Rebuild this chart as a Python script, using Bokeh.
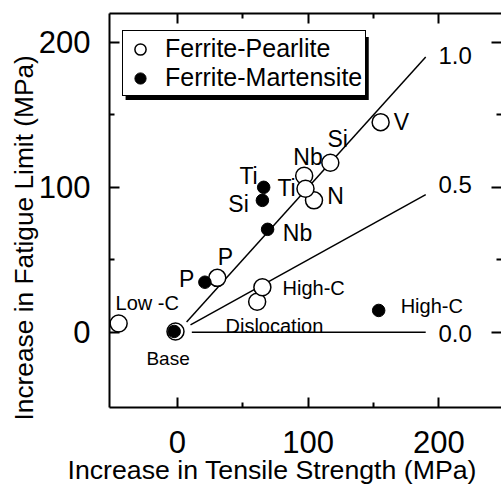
from bokeh.plotting import figure
from bokeh.models import (Range1d, LinearAxis, FixedTicker, Legend, Title,
                          LegendItem, BoxAnnotation)
from bokeh.core.properties import value
from bokeh.embed import file_html
from bokeh.resources import INLINE

FONT = "Liberation Sans"

# ---- data (MPa) ----
# Ferrite-Pearlite (open circles), in drawing order
fp_names = ["Low-C", "Base", "P", "Dislocation", "High-C", "Nb", "N", "Ti", "Si", "V"]
fp_tensile = [-45, -1.5, 30.5, 61, 65, 97, 104.5, 98, 117, 155.5]
fp_fatigue = [6, 0.5, 37.5, 21, 31, 108, 91, 99, 117, 145]

# Ferrite-Martensite (filled circles)
fm_names = ["Base", "P", "Si", "Ti", "Nb", "High-C"]
fm_tensile = [-2.5, 21, 65, 66, 69, 154]
fm_fatigue = [0.5, 34.5, 91, 100, 71, 15]

# reference lines: fatigue/tensile ratio
ratios = [1.0, 0.5, 0.0]
ratio_labels = ["1.0", "0.5", "0.0"]
line_start = [7, 10, 11]
line_end = [190, 190, 190]

x_ticks = [0, 100, 200]
x_minor = [50, 150]
y_ticks = [0, 100, 200]
y_minor = [50, 150]

# annotation texts
elem_texts = ["P", "P", "Ti", "Si", "Nb", "Ti", "Nb", "N", "Si", "V"]
elem_x = [7, 36.8, 54.4, 46.8, 91.9, 83.5, 99.9, 121, 122.6, 171.4]
elem_y = [36.4, 51.6, 107.6, 88.8, 68.8, 99.6, 120.6, 93.7, 133.7, 144.8]

cond_texts = ["Low -C", "High-C", "High-C", "Dislocation"]
cond_x = [-47.4, 80.4, 170.8, 36.8]
cond_y = [19.8, 30.7, 18.4, 4.6]

ratio_label_x = [199.8, 199.8, 199.8]
ratio_label_y = [191, 102, -1]

p = figure(width=501, height=487, x_range=Range1d(-52, 248), y_range=Range1d(-52, 220),
           output_backend="svg", toolbar_location=None,
           min_border_left=109, min_border_right=0, min_border_top=13, min_border_bottom=80)
p.xgrid.visible = False
p.ygrid.visible = False
p.outline_line_color = None
p.background_fill_color = "white"
p.border_fill_color = "white"


def style_axis(ax, ticks, minor, show_labels):
    ax.ticker = FixedTicker(ticks=ticks, minor_ticks=minor)
    ax.axis_line_width = 2
    ax.axis_line_color = "black"
    ax.major_tick_line_width = 2
    ax.minor_tick_line_width = 2
    ax.major_tick_in = 10
    ax.major_tick_out = 0
    ax.minor_tick_in = 5
    ax.minor_tick_out = 0
    ax.major_label_text_font = FONT
    ax.major_label_text_color = "black"
    ax.major_label_text_font_size = "31px"
    if not show_labels:
        ax.major_label_overrides = {t: "" for t in ticks}
        ax.major_label_standoff = 0
    ax.axis_label = None


style_axis(p.xaxis[0], x_ticks, x_minor, True)
p.xaxis[0].major_label_standoff = 23
style_axis(p.yaxis[0], y_ticks, y_minor, True)
p.yaxis[0].major_label_standoff = 19

top = LinearAxis()
style_axis(top, x_ticks, x_minor, False)
p.add_layout(top, "above")
right = LinearAxis()
style_axis(right, y_ticks, y_minor, False)
right.axis_line_color = None
p.add_layout(right, "right")

# reference lines
xs = [[s, e] for s, e in zip(line_start, line_end)]
ys = [[r * s, r * e] for r, s, e in zip(ratios, line_start, line_end)]
p.multi_line(xs=xs, ys=ys, line_color="black", line_width=1.5)

r_open = p.scatter(fp_tensile, fp_fatigue, marker="circle", size=17, fill_color="white",
                   line_color="black", line_width=1.5)
r_fill = p.scatter(fm_tensile, fm_fatigue, marker="circle", size=12.5, fill_color="black",
                   line_color="black", line_width=1)

p.text(elem_x, elem_y, text=elem_texts, text_font=value(FONT), text_font_size="23px",
       text_align="center", text_baseline="middle", text_color="black")
p.text(cond_x, cond_y, text=cond_texts, text_font=value(FONT), text_font_size="20px",
       text_align="left", text_baseline="middle", text_color="black")
p.text([-7.2], [-18.1], text=["Base"], text_font=value(FONT), text_font_size="19px",
       text_align="center", text_baseline="middle", text_color="black")
p.text(ratio_label_x, ratio_label_y, text=ratio_labels, text_font=value(FONT),
       text_font_size="24px", text_align="left", text_baseline="middle", text_color="black")

# legend with drop shadow
shadow = BoxAnnotation(left=-39.7, right=146.4, top=203.8, bottom=160.2,
                       fill_color="black", fill_alpha=1, line_color=None)
p.add_layout(shadow)
legend = Legend(items=[LegendItem(label="Ferrite-Pearlite", renderers=[r_open]),
                       LegendItem(label="Ferrite-Martensite", renderers=[r_fill])],
                location=(13, 311), orientation="vertical",
                border_line_color="black", border_line_width=1.5, border_line_alpha=1,
                background_fill_color="white", background_fill_alpha=1,
                label_text_font=FONT, label_text_font_size="25px", label_text_color="black",
                padding=3, spacing=0, margin=0, glyph_width=28, glyph_height=28,
                label_standoff=11, label_height=20)
p.add_layout(legend)

# axis titles
p.add_layout(Title(text="Increase in Tensile Strength (MPa)", align="left", offset=-42,
                   vertical_align="top", standoff=-1, text_font=FONT,
                   text_font_size="26.7px", text_font_style="normal", text_color="black"),
             "below")
p.add_layout(Title(text="Increase in Fatigue Limit (MPa)", align="left", offset=-13,
                   vertical_align="bottom", standoff=-6, text_font=FONT,
                   text_font_size="26.3px", text_font_style="normal", text_color="black"),
             "left")

open("out.html", "w").write(file_html(p, INLINE))
